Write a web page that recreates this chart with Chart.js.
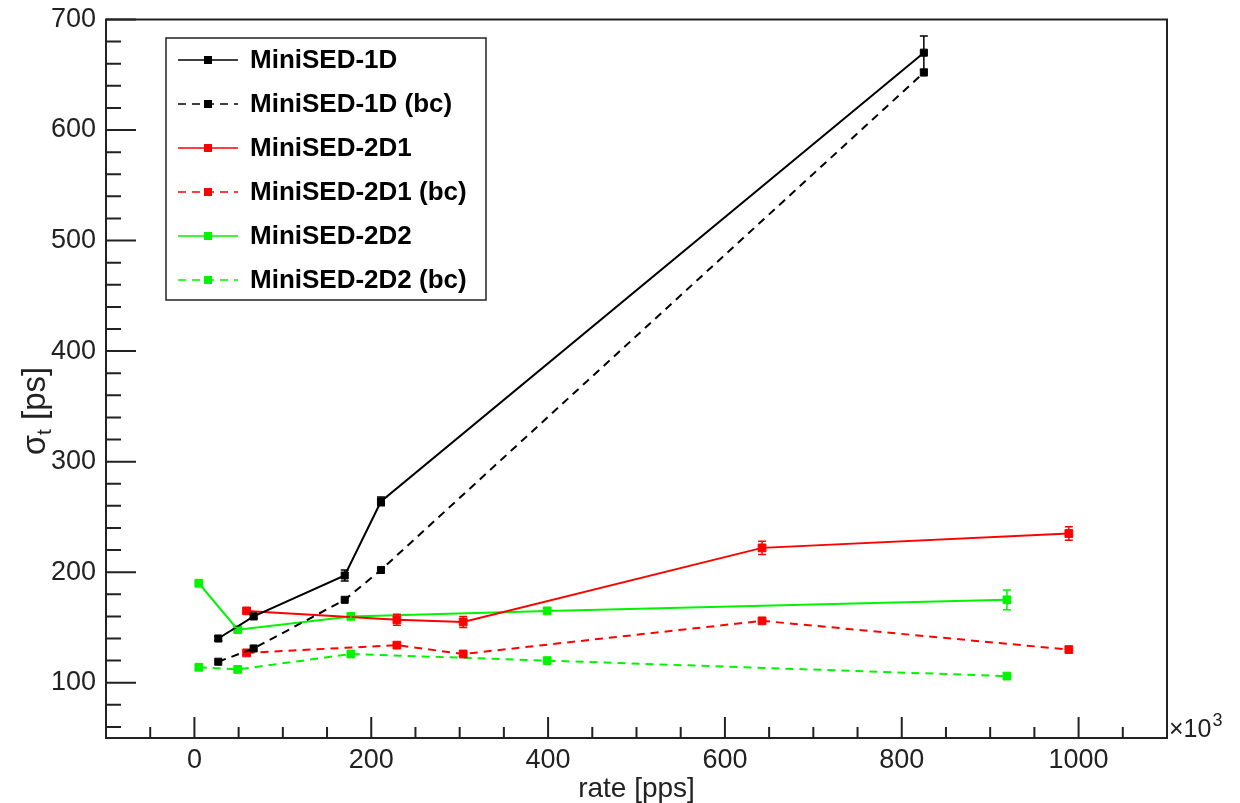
<!DOCTYPE html>
<html>
<head>
<meta charset="utf-8">
<script src="https://cdn.jsdelivr.net/npm/chart.js@4.4.1/dist/chart.umd.min.js"></script>
<style>
  html, body { margin: 0; padding: 0; background: #fff; }
  #grafico { display: block; }
</style>
</head>
<body>
<canvas id="grafico" width="1240" height="803"></canvas>
<script>
// ── Datos ────────────────────────────────────
const x1D    = [27, 67, 170, 211, 825]
const y1D    = [140, 160, 197, 264, 670]
const err1D  = [2, 2, 5, 4, 15]
const y1Dbc  = [119, 131, 175, 202, 652]

const x2D1   = [59, 229, 304, 642, 989]
const y2D1   = [165, 157, 155, 222, 235]
const err2D1 = [2, 5, 5, 6, 6]
const y2D1bc = [127, 134, 126, 156, 130]

const x2D2   = [5, 49, 177, 399, 919]
const y2D2   = [190, 148, 160, 165, 175]
const err2D2 = [1, 2, 2, 2, 9]
const y2D2bc = [114, 112, 126, 120, 106]

const etiquetas = ['MiniSED-1D', 'MiniSED-1D (bc)', 'MiniSED-2D1', 'MiniSED-2D1 (bc)', 'MiniSED-2D2', 'MiniSED-2D2 (bc)']

// ── Ejes ─────────────────────────────────────
const xMayores = [0, 200, 400, 600, 800, 1000]
const yMayores = [100, 200, 300, 400, 500, 600, 700]
const X_MIN = -100, X_MAX = 1100, X_PASO_MENOR = 50
const Y_MIN = 50,   Y_MAX = 700,  Y_PASO_MENOR = 20

const FUENTE = "'Liberation Sans', Arial, Helvetica, sans-serif"

function puntos(xs, ys) {
  return xs.map((x, i) => ({ x, y: ys[i] }))
}

function serie(label, xs, ys, color, discontinua, errores, radio) {
  return {
    label,
    data: puntos(xs, ys),
    errores: errores || null,
    borderColor: color,
    backgroundColor: color,
    borderWidth: 2,
    borderDash: discontinua ? [8, 6] : [],
    pointStyle: 'rect',
    pointRadius: radio,
    pointBorderWidth: 1,
    pointBackgroundColor: color,
    pointBorderColor: color,
    tension: 0
  }
}

const datasets = [
  serie(etiquetas[0], x1D,  y1D,    '#000000', false, err1D,  5),
  serie(etiquetas[1], x1D,  y1Dbc,  '#000000', true,  null,   5),
  serie(etiquetas[2], x2D1, y2D1,   '#ff0000', false, err2D1, 5.5),
  serie(etiquetas[3], x2D1, y2D1bc, '#ff0000', true,  null,   5.5),
  serie(etiquetas[4], x2D2, y2D2,   '#00f400', false, err2D2, 5.5),
  serie(etiquetas[5], x2D2, y2D2bc, '#00f400', true,  null,   5.5)
]

function generarTicks(min, max, paso) {
  const t = []
  for (let v = Math.ceil(min / paso) * paso; v <= max; v += paso) t.push({ value: v })
  return t
}

// ── Barras de error ──────────────────────────
const pluginErrores = {
  id: 'errores',
  afterDatasetsDraw(chart) {
    const ctx = chart.ctx
    const ys = chart.scales.y
    chart.data.datasets.forEach((ds, i) => {
      if (!ds.errores) return
      const meta = chart.getDatasetMeta(i)
      ctx.save()
      ctx.strokeStyle = ds.borderColor
      ctx.lineWidth = 1.5
      meta.data.forEach((p, j) => {
        const e = ds.errores[j]
        const v = ds.data[j].y
        const y0 = ys.getPixelForValue(v - e)
        const y1 = ys.getPixelForValue(v + e)
        ctx.beginPath()
        ctx.moveTo(p.x, y0); ctx.lineTo(p.x, y1)
        ctx.moveTo(p.x - 4, y0); ctx.lineTo(p.x + 4, y0)
        ctx.moveTo(p.x - 4, y1); ctx.lineTo(p.x + 4, y1)
        ctx.stroke()
      })
      ctx.restore()
    })
  }
}

// ── Marco, ticks hacia adentro, títulos y leyenda ─
const pluginMarco = {
  id: 'marco',
  afterDraw(chart) {
    const ctx = chart.ctx
    const a = chart.chartArea
    const xs = chart.scales.x, ys = chart.scales.y
    ctx.save()

    // ticks
    ctx.strokeStyle = '#222'
    ctx.lineWidth = 2
    ctx.beginPath()
    ys.ticks.forEach(t => {
      const y = ys.getPixelForValue(t.value)
      const largo = yMayores.includes(t.value) ? 30 : 15
      ctx.moveTo(a.left, y); ctx.lineTo(a.left + largo, y)
    })
    xs.ticks.forEach(t => {
      const x = xs.getPixelForValue(t.value)
      const largo = xMayores.includes(t.value) ? 21 : 11
      ctx.moveTo(x, a.bottom); ctx.lineTo(x, a.bottom - largo)
    })
    ctx.stroke()

    // marco
    ctx.strokeRect(a.left, a.top, a.right - a.left, a.bottom - a.top)

    // ×10^3
    ctx.fillStyle = '#222'
    ctx.textBaseline = 'alphabetic'
    ctx.textAlign = 'left'
    ctx.font = `25px ${FUENTE}`
    ctx.fillText('×10', a.right + 2, a.bottom - 1)
    const w = ctx.measureText('×10').width
    ctx.font = `18px ${FUENTE}`
    ctx.fillText('3', a.right + 3 + w, a.bottom - 12)

    // título eje Y: σ_t [ps]
    ctx.translate(36, 411)
    ctx.rotate(-Math.PI / 2)
    const f1 = `33px ${FUENTE}`, f2 = `21px ${FUENTE}`
    ctx.font = f1
    const wS = ctx.measureText('σ').width
    const wR = ctx.measureText(' [ps]').width
    ctx.font = f2
    const wT = ctx.measureText('t').width
    let x0 = -(wS + wT + wR) / 2
    ctx.textBaseline = 'middle'
    ctx.font = f1
    ctx.fillText('σ', x0, 0)
    ctx.font = f2
    ctx.fillText('t', x0 + wS, 9)
    ctx.font = f1
    ctx.fillText(' [ps]', x0 + wS + wT, 0)
    ctx.restore()

    // leyenda
    ctx.save()
    const L = { x: 166, y: 38, w: 320, h: 262 }
    ctx.fillStyle = '#fff'
    ctx.fillRect(L.x, L.y, L.w, L.h)
    ctx.strokeStyle = '#222'
    ctx.lineWidth = 1.5
    ctx.strokeRect(L.x, L.y, L.w, L.h)
    chart.data.datasets.forEach((ds, i) => {
      const y = 60 + i * 44
      ctx.strokeStyle = ds.borderColor
      ctx.lineWidth = 1.5
      ctx.setLineDash(ds.borderDash)
      ctx.beginPath()
      ctx.moveTo(178, y); ctx.lineTo(238, y)
      ctx.stroke()
      ctx.setLineDash([])
      ctx.fillStyle = ds.borderColor
      ctx.fillRect(204, y - 4, 8, 8)
      ctx.fillStyle = '#000'
      ctx.font = `bold 26px ${FUENTE}`
      ctx.textAlign = 'left'
      ctx.textBaseline = 'middle'
      ctx.fillText(ds.label, 250, y + 1)
    })
    ctx.restore()
  }
}

const ctx = document.getElementById('grafico').getContext('2d')

new Chart(ctx, {
  type: 'line',
  data: { datasets },
  plugins: [pluginErrores, pluginMarco],
  options: {
    responsive: false,
    animation: false,
    layout: { padding: { left: 0, right: 73, top: 19.5, bottom: 0 } },
    plugins: {
      legend: { display: false },
      tooltip: { enabled: false }
    },
    scales: {
      x: {
        type: 'linear',
        min: X_MIN,
        max: X_MAX,
        afterBuildTicks: s => { s.ticks = generarTicks(X_MIN + 1, X_MAX - 1, X_PASO_MENOR) },
        afterFit: s => { s.height = 65; s.paddingLeft = 0; s.paddingRight = 0 },
        grid: { display: false, drawTicks: false },
        border: { display: false },
        ticks: {
          autoSkip: false,
          maxRotation: 0,
          padding: 6,
          color: '#222',
          font: { family: FUENTE, size: 27 },
          callback: v => xMayores.includes(v) ? String(v) : ''
        },
        title: {
          display: true,
          text: 'rate [pps]',
          color: '#222',
          font: { family: FUENTE, size: 28, lineHeight: 1 },
          padding: { top: 0, bottom: 0 }
        }
      },
      y: {
        type: 'linear',
        min: Y_MIN,
        max: Y_MAX,
        afterBuildTicks: s => { s.ticks = generarTicks(Y_MIN + 1, Y_MAX, Y_PASO_MENOR) },
        afterFit: s => { s.width = 106; s.paddingTop = 0; s.paddingBottom = 0 },
        grid: { display: false, drawTicks: false },
        border: { display: false },
        ticks: {
          autoSkip: false,
          padding: 10,
          color: '#222',
          font: { family: FUENTE, size: 27 },
          callback: v => yMayores.includes(v) ? String(v) : ''
        }
      }
    }
  }
})
</script>
</body>
</html>
